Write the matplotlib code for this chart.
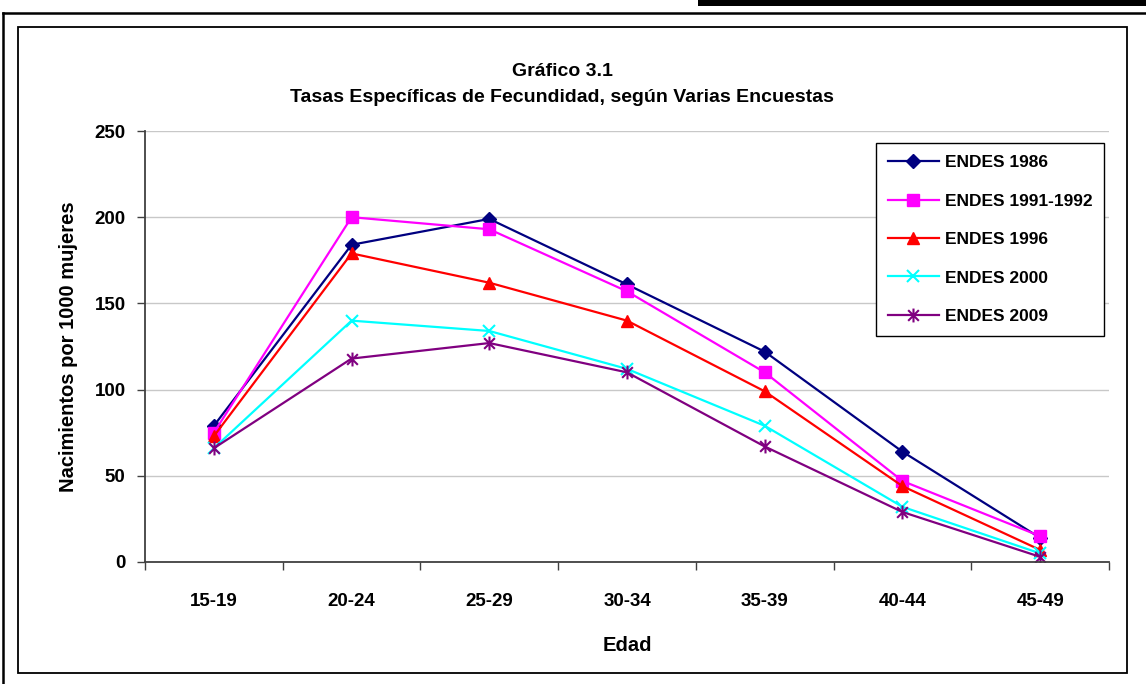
import matplotlib
matplotlib.use("Agg")
import matplotlib.pyplot as plt
from matplotlib.path import Path
from matplotlib.patches import Rectangle
from matplotlib.lines import Line2D

plt.rcParams['font.family'] = ['Liberation Sans Narrow', 'Liberation Sans', 'DejaVu Sans']
plt.rcParams['font.weight'] = 'bold'
plt.rcParams['axes.labelweight'] = 'bold'

categories = ["15-19", "20-24", "25-29", "30-34", "35-39", "40-44", "45-49"]
endes_1986 = [79, 184, 199, 161, 122, 64, 14]
endes_1991 = [75, 200, 193, 157, 110, 47, 15]
endes_1996 = [73, 179, 162, 140, 99, 44, 7]
endes_2000 = [66, 140, 134, 112, 79, 32, 5]
endes_2009 = [66, 118, 127, 110, 67, 29, 3]
series_labels = ["ENDES 1986", "ENDES 1991-1992", "ENDES 1996", "ENDES 2000", "ENDES 2009"]
y_ticks = [0, 50, 100, 150, 200, 250]

W, H = 1146, 684
fig = plt.figure(figsize=(W / 100, H / 100), dpi=100)

def fx(x): return x / W
def fy(y): return 1 - y / H

fig.patches.append(Rectangle((fx(698), fy(6)), fx(W - 698), 6 / H, transform=fig.transFigure,
                             facecolor='black', edgecolor='none'))
fig.add_artist(Line2D([fx(3), fx(3)], [fy(13), 0], transform=fig.transFigure, color='black', lw=1.8))
fig.add_artist(Line2D([fx(3), 1], [fy(13), fy(13)], transform=fig.transFigure, color='black', lw=1.8))
fig.patches.append(Rectangle((fx(18), fy(673)), fx(1127 - 18), (673 - 27) / H, transform=fig.transFigure,
                             facecolor='none', edgecolor='black', lw=1.3))

ax = fig.add_axes([145 / W, (H - 562) / H, 964 / W, 431 / H])

asterisk = Path([(-1, -1), (1, 1), (-1, 1), (1, -1), (0, -1.3), (0, 1.3)],
                [Path.MOVETO, Path.LINETO, Path.MOVETO, Path.LINETO, Path.MOVETO, Path.LINETO])

styles = [
    dict(color='#000080', marker='D', ms=7.5, mfc='#000080', mec='#000080'),
    dict(color='#FF00FF', marker='s', ms=8, mfc='#FF00FF', mec='#FF00FF'),
    dict(color='#FF0000', marker='^', ms=9, mfc='#FF0000', mec='#FF0000'),
    dict(color='#00FFFF', marker='x', ms=9, mec='#00FFFF', mew=1.5),
    dict(color='#800080', marker=asterisk, ms=10, mec='#800080', mfc='none', mew=1.5),
]
data = [endes_1986, endes_1991, endes_1996, endes_2000, endes_2009]
x = list(range(len(categories)))
for vals, lab, st in zip(data, series_labels, styles):
    ax.plot(x, vals, lw=1.6, label=lab, **st)

ax.set_xlim(-0.5, len(categories) - 0.5)
ax.set_ylim(0, 250)
ax.set_yticks(y_ticks)
ax.set_yticklabels([str(v) for v in y_ticks], fontsize=13.5)
ax.set_xticks(x)
ax.set_xticklabels(categories, fontsize=13.5)
ax.set_xticks([i - 0.5 for i in range(len(categories) + 1)], minor=True)
ax.tick_params(axis='x', which='major', length=0, pad=22)
ax.tick_params(axis='x', which='minor', length=6, width=1, color='#404040', direction='out')
ax.tick_params(axis='y', length=6, width=1, color='#404040', pad=8)
ax.grid(axis='y', color='#c8c8c8', lw=1)
ax.set_axisbelow(True)
for s in ['top', 'right']:
    ax.spines[s].set_visible(False)
for s in ['left', 'bottom']:
    ax.spines[s].set_color('#404040')
    ax.spines[s].set_linewidth(1.3)

ax.set_ylabel("Nacimientos por 1000 mujeres", fontsize=14.5, labelpad=12)
ax.set_xlabel("Edad", fontsize=14.5, labelpad=19)

fig.text(562 / W, fy(71), "Gráfico 3.1", ha='center', va='center', fontsize=14)
fig.text(562 / W, fy(97), "Tasas Específicas de Fecundidad, según Varias Encuestas", ha='center', va='center', fontsize=14)

leg = fig.legend(loc='upper left', bbox_to_anchor=(fx(876), fy(143)), fontsize=12.5,
                 frameon=True, fancybox=False, edgecolor='black', framealpha=1,
                 borderpad=0.7, labelspacing=1.34, handlelength=2.9, handletextpad=0.35,
                 borderaxespad=0)
leg.get_frame().set_linewidth(1.0)

fig.savefig("out.png", dpi=100)
